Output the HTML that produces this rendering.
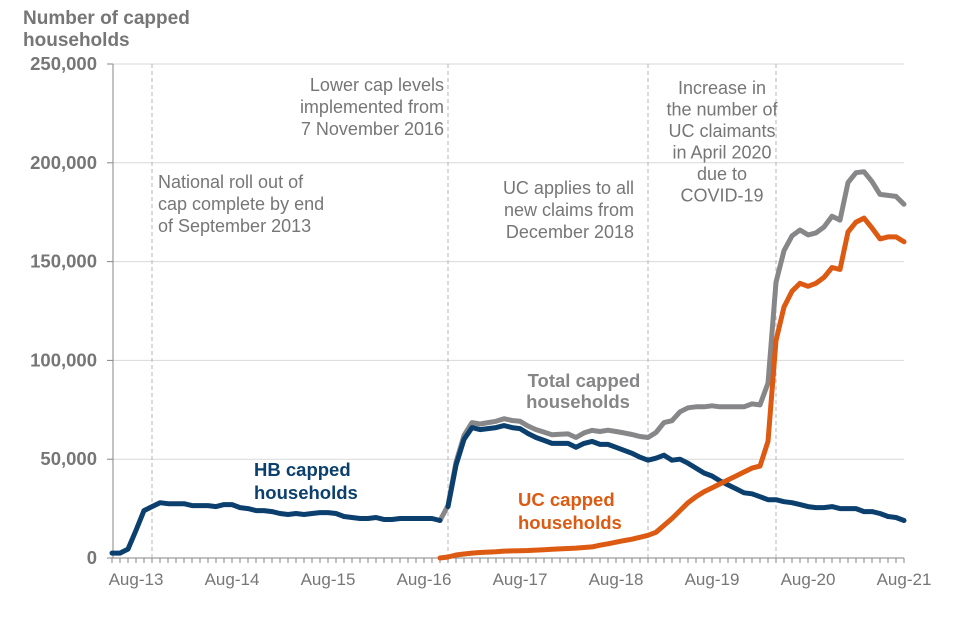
<!DOCTYPE html>
<html><head><meta charset="utf-8"><style>
body{margin:0;background:#fff;}
svg{display:block;font-family:"Liberation Sans",Arial,sans-serif;}
</style></head><body>
<svg id="chart" width="960" height="640" viewBox="0 0 960 640" xmlns="http://www.w3.org/2000/svg">
<text x="23" y="24" font-size="19" font-weight="bold" fill="#767676">Number of capped</text>
<text x="23" y="46" font-size="19" font-weight="bold" fill="#767676">households</text>
<g id="grid"></g><g id="yaxis"></g><g id="xaxis"></g><g id="events"></g><g id="series"></g>
<g font-size="18" fill="#767676">
<text x="158" y="188">National roll out of</text>
<text x="158" y="210">cap complete by end</text>
<text x="158" y="232">of September 2013</text>
<text x="444" y="91" text-anchor="end">Lower cap levels</text>
<text x="444" y="113" text-anchor="end">implemented from</text>
<text x="444" y="135" text-anchor="end">7 November 2016</text>
<text x="634" y="194" text-anchor="end">UC applies to all</text>
<text x="634" y="216" text-anchor="end">new claims from</text>
<text x="634" y="238" text-anchor="end">December 2018</text>
<text x="722" y="94" text-anchor="middle">Increase in</text>
<text x="722" y="115.5" text-anchor="middle">the number of</text>
<text x="722" y="137" text-anchor="middle">UC claimants</text>
<text x="722" y="158.5" text-anchor="middle">in April 2020</text>
<text x="722" y="180" text-anchor="middle">due to</text>
<text x="722" y="201.5" text-anchor="middle">COVID-19</text>
</g>
<g font-size="18.5" font-weight="bold">
<text x="254" y="476" fill="#0b3f6e">HB capped</text>
<text x="254" y="499" fill="#0b3f6e">households</text>
<text x="584" y="387" fill="#868688" text-anchor="middle">Total capped</text>
<text x="578" y="408" fill="#868688" text-anchor="middle">households</text>
<text x="518" y="506" fill="#dc5a12">UC capped</text>
<text x="518" y="529" fill="#dc5a12">households</text>
</g>
</svg>
<script>
const hbValues=[2.5,2.5,4.5,14,24,26,28,27.5,27.5,27.5,26.5,26.5,26.5,26,27,27,25.5,25,24,24,23.5,22.5,22,22.5,22,22.5,23,23,22.5,21,20.5,20,20,20.5,19.5,19.5,20,20,20,20,20,19,
26,47,60,66,65,65.5,66,67,66,65.5,63,61,59.5,58,58,58,56,58,59,57.5,57.5,56,54.5,53,51,49.5,50.5,52,49.5,50,48,45.5,43,41.5,39,37,35,33,32.5,31,29.5,29.5,28.5,28,27,26,25.5,25.5,26,25,25,25,23.5,23.5,22.5,21,20.5,19];
const ucStart=41;
const ucValues=[0,0.5,1.5,2,2.5,2.8,3,3.2,3.5,3.6,3.7,3.8,4,4.2,4.4,4.6,4.8,5,5.3,5.6,6.5,7.2,8,8.8,9.5,10.5,11.5,13,16.5,20,24,28,31,33.5,35.5,37.5,39.5,41.5,43.5,45.5,46.5,59,110,127,135,139,137.5,139,142,147,146,165,170,172,167,161.5,162.5,162.5,160];
const yTicks=[0,50000,100000,150000,200000,250000];
const yTickLabels=["0","50,000","100,000","150,000","200,000","250,000"];
const xTickIdx=[3,15,27,39,51,63,75,87,99];
const xTickLabels=["Aug-13","Aug-14","Aug-15","Aug-16","Aug-17","Aug-18","Aug-19","Aug-20","Aug-21"];
const eventIdx=[5,42,67,83];
const NS="http://www.w3.org/2000/svg";
const X=i=>112+i*8;
const Y=v=>558-v/250000*494;
function mk(tag,attrs,parent){const e=document.createElementNS(NS,tag);for(const k in attrs)e.setAttribute(k,attrs[k]);parent.appendChild(e);return e;}
const grid=document.getElementById('grid'),ya=document.getElementById('yaxis'),xa=document.getElementById('xaxis'),ev=document.getElementById('events'),se=document.getElementById('series');
yTicks.forEach((v,k)=>{
 if(v>0){const g=mk('line',{x1:113,x2:904,y1:Y(v),y2:Y(v),stroke:'#d9d9d9','stroke-width':1},grid);
 
 }
 const t=mk('line',{x1:107,x2:113,y1:Y(v),y2:Y(v),stroke:'#868686'},ya);
 
 
 const l=mk('text',{x:97,y:Y(v)+6,'text-anchor':'end','font-size':18.5,'font-weight':'bold',fill:'#767676'},ya);
 l.textContent=yTickLabels[k];
 
 
});
const ax=mk('line',{x1:113,x2:113,y1:Y(250000),y2:558,stroke:'#868686'},ya);


const xl=mk('line',{x1:112,x2:904,y1:558,y2:558,stroke:'#868686'},xa);


for(let i=0;i<hbValues.length;i++){const t=mk('line',{x1:X(i),x2:X(i),y1:558,y2:563,stroke:'#868686'},xa);
 
 }
xTickIdx.forEach((i,k)=>{const l=mk('text',{x:X(i),y:585,'text-anchor':'middle','font-size':17,fill:'#767676'},xa);
 l.textContent=xTickLabels[k];
 
 });
eventIdx.forEach(i=>{const d=mk('line',{x1:X(i),x2:X(i),y1:64,y2:558,stroke:'#b4b4b4','stroke-dasharray':'4,3'},ev);
 
 });
function path(pts,color,name){const d=pts.map((p,k)=>(k?'L':'M')+p[0].toFixed(1)+','+p[1].toFixed(1)).join('');
 const e=mk('path',{d:d,fill:'none',stroke:color,'stroke-width':5,'stroke-linejoin':'round','stroke-linecap':'round'},se);
 
 }
const total=hbValues.map((v,i)=>[X(i),Y((v+(i>=ucStart?ucValues[i-ucStart]:0))*1000)]).slice(ucStart);
path(total,'#878789','total-capped-line');
path(hbValues.map((v,i)=>[X(i),Y(v*1000)]).slice(0,ucStart+1),'#0b3f6e','hb-capped-line-early');
path(hbValues.map((v,i)=>[X(i),Y(v*1000)]).slice(ucStart+1),'#0b3f6e','hb-capped-line');
path(ucValues.map((v,k)=>[X(k+ucStart),Y(v*1000)]),'#dc5a12','uc-capped-line');
</script>
</body></html>
